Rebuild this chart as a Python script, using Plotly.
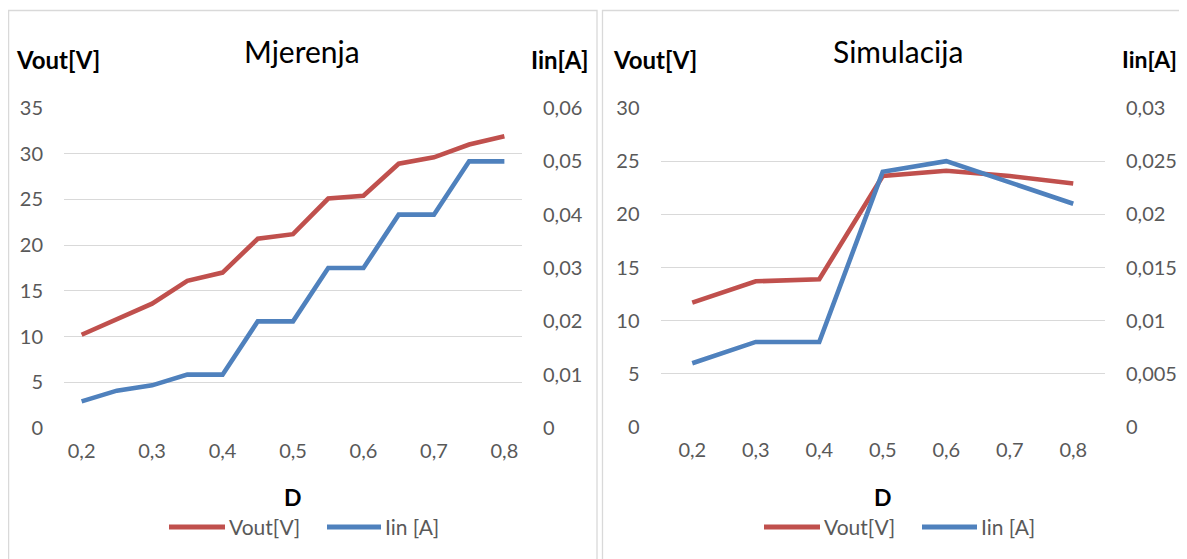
import plotly.graph_objects as go

# ---- data ----
d_meas = [0.2, 0.25, 0.3, 0.35, 0.4, 0.45, 0.5, 0.55, 0.6, 0.65, 0.7, 0.75, 0.8]
vout_meas = [10.2, 11.9, 13.6, 16.1, 17.0, 20.7, 21.2, 25.1, 25.4, 28.9, 29.6, 31.0, 31.9]
iin_meas = [0.005, 0.007, 0.008, 0.01, 0.01, 0.02, 0.02, 0.03, 0.03, 0.04, 0.04, 0.05, 0.05]

d_sim = [0.2, 0.3, 0.4, 0.5, 0.6, 0.7, 0.8]
vout_sim = [11.7, 13.7, 13.9, 23.6, 24.1, 23.6, 22.9]
iin_sim = [0.006, 0.008, 0.008, 0.024, 0.025, 0.023, 0.021]

x_ticks = [0.2, 0.3, 0.4, 0.5, 0.6, 0.7, 0.8]
x_ticktext = ["0,2", "0,3", "0,4", "0,5", "0,6", "0,7", "0,8"]

series_names = ["Vout[V]", "Iin [A]"]

RED = "#C0504D"
BLUE = "#4F81BD"
GRID = "#D9D9D9"
TXT = "#595959"
FONT = "Lato"

# page has an 8px body margin; size figure to fit the 1187x559 window
OFF = 8
W, H = 1187 - OFF, 559 - OFF

def px_x(p):
    return (p - OFF) / W

def px_y(p):
    return 1 - (p - OFF) / H

fig = go.Figure()

fig.add_trace(go.Scatter(x=d_meas, y=vout_meas, mode="lines", name=series_names[0],
                         line=dict(color=RED, width=4.6), xaxis="x", yaxis="y"))
fig.add_trace(go.Scatter(x=d_meas, y=iin_meas, mode="lines", name=series_names[1],
                         line=dict(color=BLUE, width=4.6), xaxis="x", yaxis="y2"))
fig.add_trace(go.Scatter(x=d_sim, y=vout_sim, mode="lines", name=series_names[0],
                         line=dict(color=RED, width=4.6), xaxis="x2", yaxis="y3"))
fig.add_trace(go.Scatter(x=d_sim, y=iin_sim, mode="lines", name=series_names[1],
                         line=dict(color=BLUE, width=4.6), xaxis="x2", yaxis="y4"))

dom1 = [px_x(64), px_x(522)]
dom2 = [px_x(660.5), px_x(1105)]

tickfont = dict(family=FONT, size=20, color=TXT)

xcommon = dict(tickvals=x_ticks, ticktext=x_ticktext, showgrid=False, zeroline=False,
               showline=False, ticks="", tickfont=tickfont, ticklabelstandoff=9,
               automargin=False)
ycommon = dict(zeroline=False, showline=False, tickfont=tickfont, ticks="",
               ticklabelstandoff=20, automargin=False)

fig.update_layout(
    width=W, height=H,
    margin=dict(l=0, r=0, t=0, b=0, autoexpand=False),
    paper_bgcolor="white", plot_bgcolor="white",
    separators=", ",
    font=dict(family=FONT, color=TXT),
    showlegend=False,
    xaxis=dict(domain=dom1, range=[0.175, 0.825], anchor="y", **xcommon),
    xaxis2=dict(domain=dom2, range=[0.15, 0.85], anchor="y3", **xcommon),
    yaxis=dict(domain=[px_y(428), px_y(108)], range=[0, 35], dtick=5, anchor="x",
               showgrid=True, gridcolor=GRID, gridwidth=1.3, **ycommon),
    yaxis2=dict(domain=[px_y(428), px_y(108)], range=[0, 0.06], dtick=0.01, anchor="x",
                overlaying="y", side="right", showgrid=False, **ycommon),
    yaxis3=dict(domain=[px_y(427), px_y(108)], range=[0, 30], dtick=5, anchor="x2",
                showgrid=True, gridcolor=GRID, gridwidth=1.3, **ycommon),
    yaxis4=dict(domain=[px_y(427), px_y(108)], range=[0, 0.03], dtick=0.005, anchor="x2",
                overlaying="y3", side="right", showgrid=False, **ycommon),
)

# panel borders
fig.add_shape(type="rect", xref="paper", yref="paper",
              x0=px_x(8.6), x1=px_x(597), y0=px_y(600), y1=px_y(10.5),
              line=dict(color=GRID, width=1.3), fillcolor="rgba(0,0,0,0)", layer="below")
fig.add_shape(type="rect", xref="paper", yref="paper",
              x0=px_x(602.5), x1=px_x(1220), y0=px_y(600), y1=px_y(10.5),
              line=dict(color=GRID, width=1.3), fillcolor="rgba(0,0,0,0)", layer="below")

def ann(text, x, y, size, bold=False, color="black", xanchor="left"):
    fig.add_annotation(text=f"<b>{text}</b>" if bold else text, x=px_x(x), y=px_y(y),
                       xref="paper", yref="paper", xanchor=xanchor, yanchor="middle",
                       showarrow=False, font=dict(family=FONT, size=size, color=color))

# titles
ann("Mjerenja", 302, 51, 30, color="black", xanchor="center")
ann("Simulacija", 898, 51, 30, color="black", xanchor="center")
# axis titles
ann("Vout[V]", 14, 59, 24, bold=True)
ann("Iin[A]", 529, 59, 24, bold=True)
ann("Vout[V]", 611, 59, 24, bold=True)
ann("Iin[A]", 1120, 59, 23, bold=True)
ann("D", 293, 497, 23, bold=True, xanchor="center")
ann("D", 883, 497, 23, bold=True, xanchor="center")

# legends (line sample + label)
def legend_item(x0, x1, color, label):
    fig.add_shape(type="line", xref="paper", yref="paper",
                  x0=px_x(x0), x1=px_x(x1), y0=px_y(527), y1=px_y(527),
                  line=dict(color=color, width=5))
    ann(label, x1 + 2, 526, 21, color=TXT)

legend_item(169, 225, RED, series_names[0])
legend_item(327, 381, BLUE, series_names[1])
legend_item(764, 820, RED, series_names[0])
legend_item(922, 977, BLUE, series_names[1])

fig.write_html("out.html")
